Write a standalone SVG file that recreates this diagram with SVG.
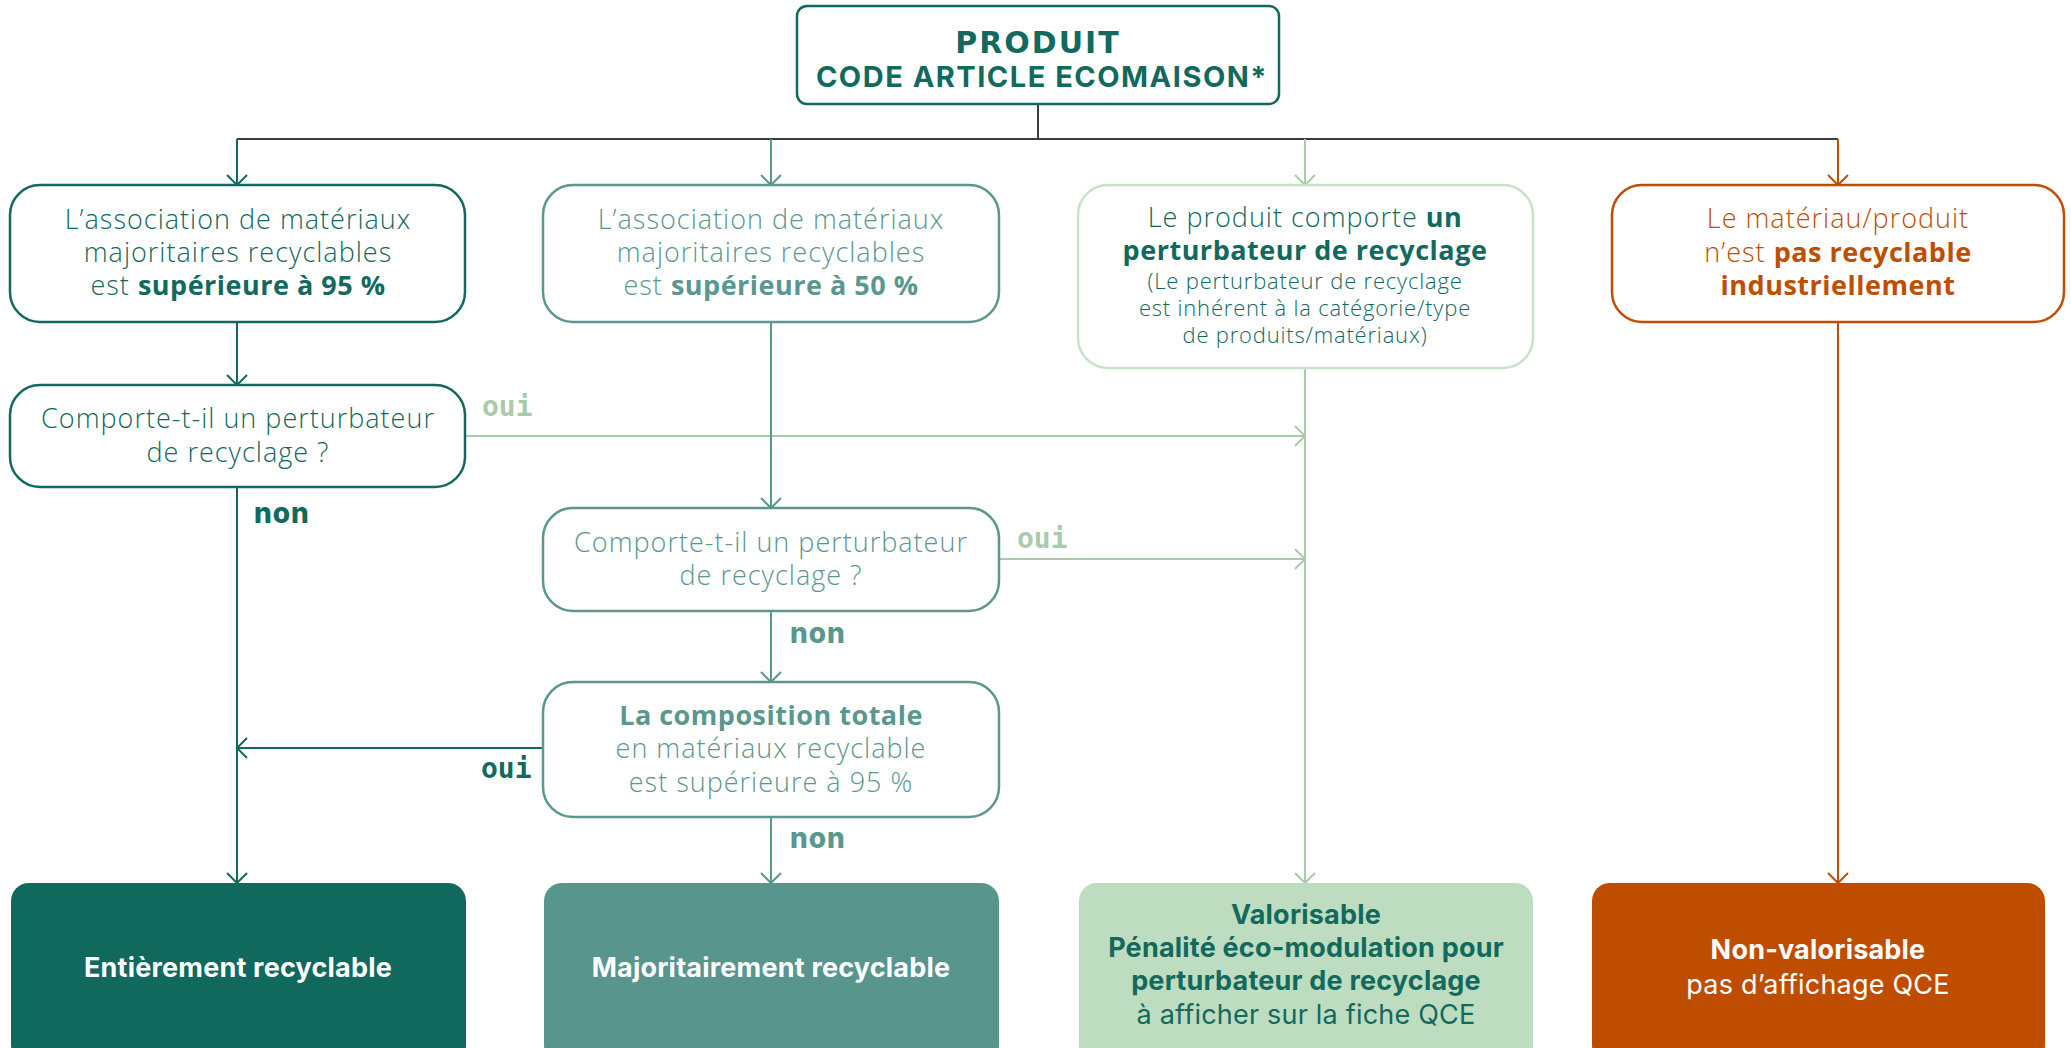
<svg xmlns="http://www.w3.org/2000/svg" width="2071" height="1048" viewBox="0 0 2071 1048">
<defs>
<style>
.bg{fill:#ffffff}
.box{fill:#ffffff;stroke-width:2.5}
.dk{stroke:#12695D}
.tl{stroke:#5A978E}
.lg{stroke:#C6E2C8}
.or{stroke:#C04E00}
.t{font-family:"Open Sans","Lato",sans-serif;font-weight:300;font-size:27px;letter-spacing:1px;text-anchor:middle}
.ts{font-size:22px;letter-spacing:0.8px}
.b{font-weight:700;letter-spacing:0.5px}
.cdk{fill:#12695D}
.ctl{fill:#5A978E}
.cor{fill:#C04E00}
.cw{fill:#ffffff}
.bt{font-family:"Inter","Open Sans",sans-serif;font-weight:700;font-size:27px;letter-spacing:0.2px;text-anchor:middle}
.btl{font-family:"Inter","Open Sans",sans-serif;font-weight:400;font-size:27px;letter-spacing:0.2px;text-anchor:middle}
.oui{font-family:"DejaVu Sans Mono",monospace;font-weight:700;font-size:28px}
.non{font-family:"Inter","Open Sans",sans-serif;font-weight:800;font-size:28px;letter-spacing:1px}
.c{fill:none;stroke-width:2}
</style>
<marker id="adk" markerUnits="userSpaceOnUse" markerWidth="24" markerHeight="24" refX="0" refY="0" viewBox="-12 -12 24 24" orient="auto" overflow="visible"><path d="M-10,-10 L0,0 L-10,10" fill="none" stroke="#12695D" stroke-width="2"/></marker>
<marker id="atl" markerUnits="userSpaceOnUse" markerWidth="24" markerHeight="24" refX="0" refY="0" viewBox="-12 -12 24 24" orient="auto" overflow="visible"><path d="M-10,-10 L0,0 L-10,10" fill="none" stroke="#5A978E" stroke-width="2"/></marker>
<marker id="alg" markerUnits="userSpaceOnUse" markerWidth="24" markerHeight="24" refX="0" refY="0" viewBox="-12 -12 24 24" orient="auto" overflow="visible"><path d="M-10,-10 L0,0 L-10,10" fill="none" stroke="#AACBAB" stroke-width="2"/></marker>
<marker id="aor" markerUnits="userSpaceOnUse" markerWidth="24" markerHeight="24" refX="0" refY="0" viewBox="-12 -12 24 24" orient="auto" overflow="visible"><path d="M-10,-10 L0,0 L-10,10" fill="none" stroke="#C04E00" stroke-width="2"/></marker>
</defs>
<rect class="bg" x="0" y="0" width="2071" height="1048"/>

<g id="connectors">
<path class="c" stroke="#3C3C3C" d="M1038,104 L1038,139 M237,139 L1838,139"/>
<path class="c" stroke="#12695D" d="M237,139 L237,185" marker-end="url(#adk)"/>
<path class="c" stroke="#5A978E" d="M771,139 L771,185" marker-end="url(#atl)"/>
<path class="c" stroke="#AACBAB" d="M1305,139 L1305,185" marker-end="url(#alg)"/>
<path class="c" stroke="#C04E00" d="M1838,139 L1838,185" marker-end="url(#aor)"/>
<path class="c" stroke="#12695D" d="M237,322 L237,385" marker-end="url(#adk)"/>
<path class="c" stroke="#12695D" d="M237,487 L237,883" marker-end="url(#adk)"/>
<path class="c" stroke="#AACBAB" d="M465,436 L1305,436" marker-end="url(#alg)"/>
<path class="c" stroke="#5A978E" d="M771,322 L771,508" marker-end="url(#atl)"/>
<path class="c" stroke="#5A978E" d="M771,611 L771,682" marker-end="url(#atl)"/>
<path class="c" stroke="#5A978E" d="M771,817 L771,883" marker-end="url(#atl)"/>
<path class="c" stroke="#AACBAB" d="M999,559 L1305,559" marker-end="url(#alg)"/>
<path class="c" stroke="#12695D" d="M543,748 L237,748" marker-end="url(#adk)"/>
<path class="c" stroke="#AACBAB" d="M1305,368 L1305,883" marker-end="url(#alg)"/>
<path class="c" stroke="#C04E00" d="M1838,322 L1838,883" marker-end="url(#aor)"/>
<text class="oui" x="482" y="416" fill="#AACBAB">oui</text>
<text class="oui" x="1017" y="548" fill="#AACBAB">oui</text>
<text class="oui" x="481" y="778" fill="#12695D">oui</text>
<text class="non" x="254" y="523" fill="#12695D">non</text>
<text class="non" x="790" y="643" fill="#5A978E">non</text>
<text class="non" x="790" y="848" fill="#5A978E">non</text>
</g>

<g id="produit">
<rect class="box dk" x="797" y="6" width="482" height="98" rx="10"/>
<text x="1038" y="53" font-family="DejaVu Sans,sans-serif" font-weight="700" font-size="30" letter-spacing="2" text-anchor="middle" class="cdk">PRODUIT</text>
<text x="1042" y="87" font-family="Inter,sans-serif" font-weight="700" font-size="29" letter-spacing="1.5" text-anchor="middle" class="cdk">CODE ARTICLE ECOMAISON*</text>
</g>

<g id="assoc95">
<rect class="box dk" x="10" y="185" width="455" height="137" rx="30"/>
<text class="t cdk"><tspan x="238" y="229">L’association de matériaux</tspan><tspan x="238" y="262">majoritaires recyclables</tspan><tspan x="238" y="295">est <tspan class="b">supérieure à 95 %</tspan></tspan></text>
</g>

<g id="question1">
<rect class="box dk" x="10" y="385" width="455" height="102" rx="30"/>
<text class="t cdk"><tspan x="238" y="428">Comporte-t-il un perturbateur</tspan><tspan x="238" y="462">de recyclage ?</tspan></text>
</g>

<g id="assoc50">
<rect class="box tl" x="543" y="185" width="456" height="137" rx="30"/>
<text class="t ctl"><tspan x="771" y="229">L’association de matériaux</tspan><tspan x="771" y="262">majoritaires recyclables</tspan><tspan x="771" y="295">est <tspan class="b">supérieure à 50 %</tspan></tspan></text>
</g>

<g id="question2">
<rect class="box tl" x="543" y="508" width="456" height="103" rx="30"/>
<text class="t ctl"><tspan x="771" y="552">Comporte-t-il un perturbateur</tspan><tspan x="771" y="585">de recyclage ?</tspan></text>
</g>

<g id="composition">
<rect class="box tl" x="543" y="682" width="456" height="135" rx="30"/>
<text class="t ctl"><tspan x="771" y="725" class="b">La composition totale</tspan><tspan x="771" y="758">en matériaux recyclable</tspan><tspan x="771" y="792">est supérieure à 95 %</tspan></text>
</g>

<g id="perturbateur">
<rect class="box lg" x="1078" y="185" width="455" height="183" rx="30"/>
<text class="t cdk"><tspan x="1305" y="227">Le produit comporte <tspan class="b">un</tspan></tspan><tspan x="1305" y="260" class="b">perturbateur de recyclage</tspan></text>
<text class="t ts cdk"><tspan x="1305" y="289">(Le perturbateur de recyclage</tspan><tspan x="1305" y="316">est inhérent à la catégorie/type</tspan><tspan x="1305" y="343">de produits/matériaux)</tspan></text>
</g>

<g id="nonrecyclable">
<rect class="box or" x="1612" y="185" width="452" height="137" rx="30"/>
<text class="t cor"><tspan x="1838" y="228">Le matériau/produit</tspan><tspan x="1838" y="262">n’est <tspan class="b">pas recyclable</tspan></tspan><tspan x="1838" y="295" class="b">industriellement</tspan></text>
</g>

<g id="entierement">
<rect x="11" y="883" width="455" height="180" rx="18" fill="#11685C"/>
<text class="bt cw" x="238" y="977">Entièrement recyclable</text>
</g>

<g id="majoritairement">
<rect x="544" y="883" width="455" height="180" rx="18" fill="#58958C"/>
<text class="bt cw" x="771" y="977">Majoritairement recyclable</text>
</g>

<g id="valorisable">
<rect x="1079" y="883" width="454" height="180" rx="18" fill="#BEDCBF"/>
<text class="bt cdk" x="1306" y="924">Valorisable</text>
<text class="bt cdk" x="1306" y="957">Pénalité éco-modulation pour</text>
<text class="bt cdk" x="1306" y="990">perturbateur de recyclage</text>
<text class="btl cdk" x="1306" y="1024">à afficher sur la fiche QCE</text>
</g>

<g id="nonvalorisable">
<rect x="1592" y="883" width="453" height="180" rx="18" fill="#BF4D00"/>
<text class="bt cw" x="1818" y="959">Non-valorisable</text>
<text class="btl cw" x="1818" y="994">pas d’affichage QCE</text>
</g>
</svg>
